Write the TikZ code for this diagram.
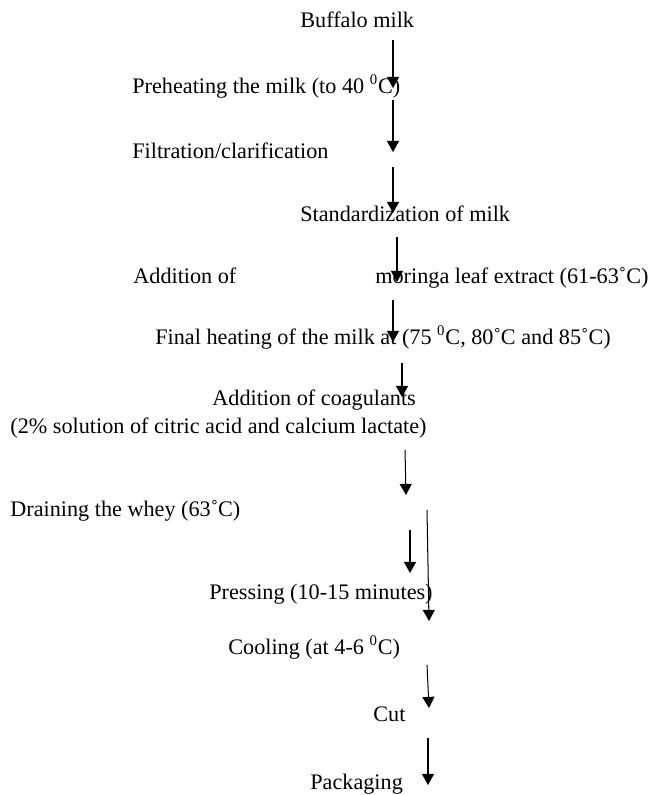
\documentclass[tikz,border=0pt]{standalone}
\usepackage{fontspec}
\setmainfont{Liberation Serif}
\usetikzlibrary{arrows.meta}

\begin{document}
\begin{tikzpicture}[
                x=0.5405pt, y=-0.5405pt,
                every node/.style={inner sep=0pt, font=\fontsize{12}{14}\selectfont},
                flowtext/.style={anchor=base west},
                flowarrow/.style={-{Triangle[width=6.5pt,length=6pt]}, line width=0.55pt}
                ]
                \useasboundingbox (0,0) rectangle (649,795);
                % Process steps
                \node[flowtext] (buffalo) at (300,27) {Buffalo milk};
                \node[flowtext] (preheat) at (132,93) {Preheating the milk (to 40 \textsuperscript{0}C)};
                \node[flowtext] (filter) at (132,158) {Filtration/clarification};
                \node[flowtext] (standard) at (300,221) {Standardization of milk};
                \node[flowtext] (addof) at (133,283) {Addition of};
                \node[flowtext] (moringa) at (375,283) {moringa leaf extract (61-63˚C)};
                \node[flowtext] (heating) at (155,344) {Final heating of the milk at (75 \textsuperscript{0}C, 80˚C and 85˚C)};
                \node[flowtext] (coag) at (212,405) {Addition of coagulants};
                \node[flowtext] (solution) at (10,433) {(2\% solution of citric acid and calcium lactate)};
                \node[flowtext] (drain) at (10,516) {Draining the whey (63˚C)};
                \node[flowtext, anchor=base east] (press) at (433,599) {Pressing (10-15 minutes)};
                \node[flowtext] (cool) at (228,654) {Cooling (at 4-6 \textsuperscript{0}C)};
                \node[flowtext] (cut) at (373,721) {Cut};
                \node[flowtext] (pack) at (310,789) {Packaging};
                % Arrows
                \foreach \n/\xa/\ya/\xb/\yb in {1/393/40/393/88, 2/393/100/393/152, 3/393/167/393/213,
                    4/397/237/397/282, 5/393/300/393/342, 6/402/363/402/397, 7/405/450/406/495,
                    8/410/530/410/573, 9/427/510/429/621, 10/427/665/429/708, 11/428/738/428/785}{
                    \coordinate (s\n) at (\xa,\ya);
                    \coordinate (e\n) at (\xb,\yb);
                    \draw[flowarrow] (s\n) -- (e\n);
                }
            \end{tikzpicture}
\end{document}
